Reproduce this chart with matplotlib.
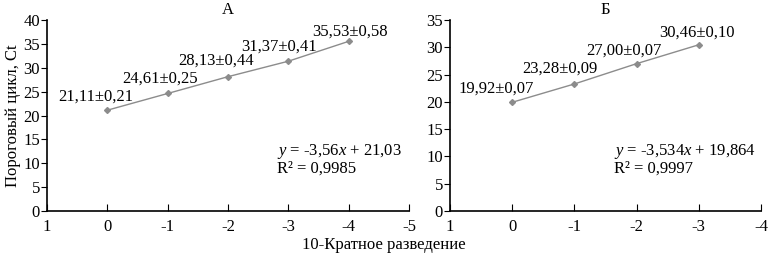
import matplotlib
matplotlib.use("Agg")
import matplotlib.pyplot as plt

plt.rcParams['font.family'] = ['Liberation Serif', 'DejaVu Serif']
plt.rcParams['axes.unicode_minus'] = False
plt.rcParams['mathtext.fontset'] = 'custom'
plt.rcParams['mathtext.rm'] = 'Liberation Serif'
plt.rcParams['mathtext.it'] = 'Liberation Serif:italic'

# data
dil_a = [0, -1, -2, -3, -4]
ct_a = [21.11, 24.61, 28.13, 31.37, 35.53]
sd_a = [0.21, 0.25, 0.44, 0.41, 0.58]
dil_b = [0, -1, -2, -3]
ct_b = [19.92, 23.28, 27.00, 30.46]
sd_b = [0.07, 0.09, 0.07, 0.10]
eq_a = ["$y$ = -3,56$x$ + 21,03", "R² = 0,9985"]
eq_b = ["$y$ = -3,534$x$ + 19,864", "R² = 0,9997"]

W, H = 768, 256
fig = plt.figure(figsize=(W / 100, H / 100), dpi=100)
grey = '#8c8c8c'
fs = 12


def lab(v, s):
    return f"{v:.2f}".replace('.', ',') + "±" + f"{s:.2f}".replace('.', ',')


def panel(rect, x, y, sd, xlim, ylim, yticks, title, eq, eqx, offsets):
    ax = fig.add_axes(rect)
    ax.plot(x, y, color=grey, lw=1, marker='D', ms=3, mfc=grey, mec=grey)
    ax.set_xlim(*xlim)
    ax.set_ylim(*ylim)
    ax.set_xticks(range(xlim[0], xlim[1] - 1, -1))
    ax.set_yticks(yticks)
    for s in ['top', 'right']:
        ax.spines[s].set_visible(False)
    for s in ['left', 'bottom']:
        ax.spines[s].set_linewidth(1.2)
    ax.tick_params(axis='x', direction='in', length=5, labelsize=fs, pad=6)
    ax.tick_params(axis='y', direction='out', length=4, labelsize=fs, pad=1)
    ax.set_title(title, fontsize=fs, pad=4)
    for xi, yi, si, off in zip(x, y, sd, offsets):
        ax.annotate(lab(yi, si), (xi, yi), xytext=off, textcoords='offset pixels',
                    ha='center', va='center', fontsize=fs)
    ax.text(eqx, 0.27, "\n".join(eq), transform=ax.transAxes, fontsize=fs,
            va='center', linespacing=1.0)
    return ax


axa = panel([47 / W, 45 / H, 362 / W, 191 / H], dil_a, ct_a, sd_a, (1, -5), (0, 40),
            range(0, 41, 5), "А", eq_a, (277 - 47) / 362,
            [(-12, 14), (-8, 15), (-12, 16), (-9, 15), (1, 10)])
axa.set_ylabel("Пороговый цикл, Ct", fontsize=fs, labelpad=2)
axb = panel([450 / W, 45 / H, 311 / W, 191 / H], dil_b, ct_b, sd_b, (1, -4), (0, 35),
            range(0, 36, 5), "Б", eq_b, (614 - 450) / 311,
            [(-16, 14), (-15, 15), (-13, 13), (-2, 12)])

fig.text(384 / W, 1 - 245 / H, "10-Кратное разведение", ha='center', va='center', fontsize=fs)

fig.savefig("out.png", dpi=100)
